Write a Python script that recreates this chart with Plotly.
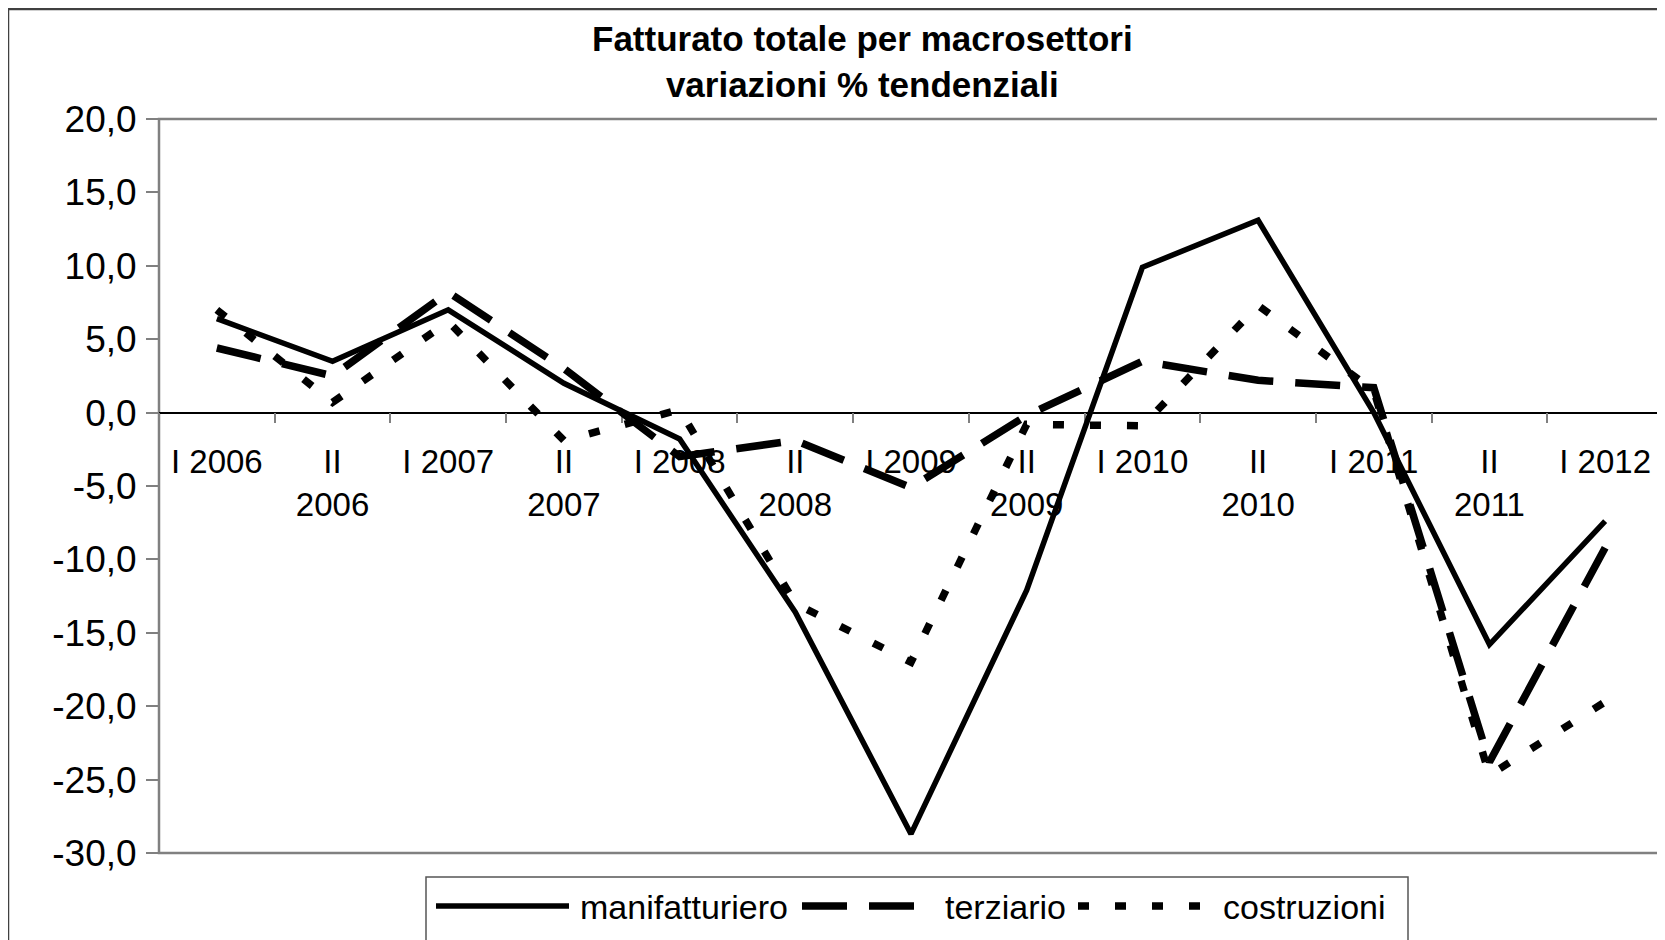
import plotly.graph_objects as go

# Dati: variazioni % tendenziali del fatturato per semestre
periodi = ["I 2006", "II<br>2006", "I 2007", "II<br>2007", "I 2008", "II<br>2008", "I 2009",
           "II<br>2009", "I 2010", "II<br>2010", "I 2011", "II<br>2011", "I 2012"]
manifatturiero = [6.4, 3.5, 7.0, 2.0, -1.8, -13.6, -28.7, -12.1, 9.9, 13.1, 0.0, -15.8, -7.4]
terziario = [4.4, 2.5, 8.2, 3.0, -3.0, -1.9, -5.1, -0.2, 3.5, 2.2, 1.7, -23.8, -9.2]
costruzioni = [7.0, 0.7, 6.2, -1.9, 0.2, -13.0, -17.0, -0.8, -0.9, 7.3, 1.5, -24.7, -19.7]
nomi = ["manifatturiero", "terziario", "costruzioni"]
y_ticks = [20, 15, 10, 5, 0, -5, -10, -15, -20, -25, -30]
y_labels = [f"{v:.1f}".replace(".", ",") for v in y_ticks]  # trattino semplice come nell'originale

FONT = "Liberation Sans, Arial, sans-serif"
# la pagina ha un margine di 8px: la figura parte da (8, 8)
W, H = 1657, 932
L, R, T, B = 151, 2, 111, 87
PW, PH = W - L - R, H - T - B


def fx(px):  # pixel della pagina -> coordinate paper
    return (px - 8 - L) / PW


def fy(py):
    return (8 + H - B - py) / PH


stili = [dict(color="black", width=5.5),
         dict(color="black", width=7.5, dash="45px,22px"),
         dict(color="black", width=7.5, dash="11px,26px")]
serie = [manifatturiero, terziario, costruzioni]

fig = go.Figure()
for nome, valori, st in zip(nomi, serie, stili):
    fig.add_trace(go.Scatter(x=periodi, y=valori, name=nome, mode="lines", line=st))

fig.update_layout(
    width=W, height=H, margin=dict(l=L, r=R, t=T, b=B, pad=0),
    paper_bgcolor="#f3f3ef", plot_bgcolor="rgba(0,0,0,0)",
    showlegend=False,
    font=dict(family=FONT, color="black"),
)

fig.update_yaxes(range=[-30, 20], tickmode="array", tickvals=y_ticks, ticktext=y_labels,
                 showgrid=False, zeroline=False,
                 ticks="outside", ticklen=12, tickcolor="#808080", tickwidth=1.5,
                 tickfont=dict(size=37, family=FONT, color="black"), ticklabelstandoff=2,
                 showline=False, layer="below traces")
# asse x posizionato sullo zero
fig.update_xaxes(type="category", range=[-0.5, 12.5], tickson="boundaries",
                 anchor="free", position=0.6, showline=True, linecolor="black", linewidth=1.5,
                 ticks="outside", ticklen=10, tickcolor="#808080", tickwidth=1.5,
                 tickfont=dict(size=33, family=FONT, color="black"), ticklabelstandoff=20,
                 showgrid=False, zeroline=False, layer="below traces", tickangle=0)

shapes = []
# cornice del grafico
shapes.append(dict(type="rect", xref="paper", yref="paper", x0=fx(8), x1=fx(1720), y0=fy(990), y1=fy(9),
                   line=dict(color="#404040", width=2.5), fillcolor="white", layer="below"))
# bordo dell'area del tracciato
shapes.append(dict(type="rect", xref="paper", yref="paper", x0=0, x1=1, y0=0, y1=1,
                   line=dict(color="#808080", width=2.5), layer="below"))
# legenda
shapes.append(dict(type="rect", xref="paper", yref="paper", x0=fx(426), x1=fx(1408), y0=fy(990), y1=fy(877),
                   line=dict(color="#555555", width=1.5), fillcolor="white", layer="above"))
campioni = [(436, 569), (802, 934), (1078, 1210)]
testi_x = [578, 943, 1221]
annotations = []
for (a, b), tx, nome, st in zip(campioni, testi_x, nomi, stili):
    shapes.append(dict(type="line", xref="paper", yref="paper", x0=fx(a), x1=fx(b), y0=fy(906), y1=fy(906),
                       line=st, layer="above"))
    annotations.append(dict(text=nome, xref="paper", yref="paper", x=fx(tx), y=fy(907),
                            xanchor="left", yanchor="middle", showarrow=False,
                            font=dict(size=34, family=FONT, color="black")))

# titolo
annotations.append(dict(text="<b>Fatturato totale per macrosettori<br>variazioni % tendenziali</b>",
                        xref="paper", yref="paper", x=fx(862), y=fy(61), xanchor="center", yanchor="middle",
                        showarrow=False, font=dict(size=35, family=FONT, color="black")))

fig.update_layout(shapes=shapes, annotations=annotations)
fig.write_html("out.html")
